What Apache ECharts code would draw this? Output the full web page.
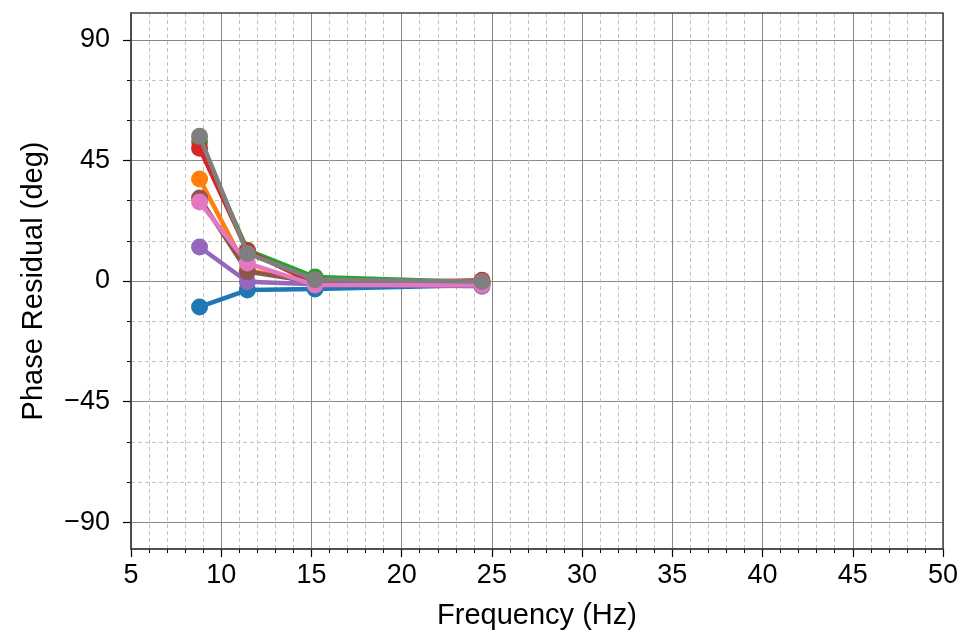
<!DOCTYPE html>
<html>
<head>
<meta charset="utf-8">
<script src="https://cdn.jsdelivr.net/npm/echarts@6/dist/echarts.min.js"></script>
<style>html,body{margin:0;padding:0;background:#fff}#c{width:966px;height:641px}</style>
</head>
<body>
<div id="c"></div>
<script>
var frequencies = [8.8, 11.45, 15.2, 24.45];
var seriesNames = ['s1','s2','s3','s4','s5','s6','s7','s8'];
var blueVals   = [-9.7, -3.4, -3.0, -1.5];
var orangeVals = [38.1, 4.0, -0.5, -0.8];
var greenVals  = [52.0, 11.5, 1.5, -0.5];
var redVals    = [49.5, 11.2, -1.0, 0.3];
var purpleVals = [12.7, -0.3, -1.2, -2.0];
var brownVals  = [31.0, 3.5, -0.5, -1.0];
var pinkVals   = [29.5, 6.7, -1.5, -1.5];
var grayVals   = [54.0, 10.3, 0.5, -0.2];
var allVals = [blueVals, orangeVals, greenVals, redVals, purpleVals, brownVals, pinkVals, grayVals];
var colors = ['#1f77b4','#ff7f0e','#2ca02c','#d62728','#9467bd','#8c564b','#e377c2','#7f7f7f'];
var xTicks = [5, 50, 5];
var yRange = [-100, 100];
var yMajor = [-90, 90, 45];

var FONT = "'Liberation Sans', Arial, Helvetica, sans-serif";
var L = 131, R = 23, T = 13, B = 92, H = 641 - T - B;
var gTop = T + H * (yRange[1] - yMajor[1]) / (yRange[1] - yRange[0]);
var gH = H * (yMajor[1] - yMajor[0]) / (yRange[1] - yRange[0]);

var series = allVals.map(function (vals, i) {
  return {
    name: seriesNames[i], type: 'line', xAxisIndex: 0, yAxisIndex: 0,
    data: frequencies.map(function (f, j) { return [f, vals[j]]; }),
    symbol: 'circle', symbolSize: 17, showSymbol: true,
    lineStyle: { width: 4.5, color: colors[i] },
    itemStyle: { color: colors[i] },
    emphasis: { disabled: true }, z: 3 + i
  };
});

var chart = echarts.init(document.getElementById('c'), null, { renderer: 'canvas' });
chart.setOption({
  animation: false,
  backgroundColor: '#fff',
  textStyle: { fontFamily: FONT },
  grid: [
    { left: L, right: R, top: T, bottom: B, show: true, borderColor: '#444', borderWidth: 1.5, backgroundColor: 'transparent', z: 10 },
    { left: L, right: R, top: gTop, height: gH, show: false }
  ],
  xAxis: [
    { type: 'value', gridIndex: 0, min: xTicks[0], max: xTicks[1], interval: xTicks[2],
      name: 'Frequency (Hz)', nameLocation: 'middle', nameGap: 52,
      nameTextStyle: { fontSize: 29, color: '#000', fontFamily: FONT },
      axisLine: { show: true, onZero: false, lineStyle: { color: '#444', width: 1.5 } },
      axisTick: { show: true, length: 8, lineStyle: { color: '#000', width: 1.2 } },
      minorTick: { show: true, splitNumber: 5, length: 4, lineStyle: { color: '#000', width: 1 } },
      axisLabel: { fontSize: 27, color: '#000', margin: 13, fontFamily: FONT },
      splitLine: { show: true, lineStyle: { color: '#888', width: 1 } },
      minorSplitLine: { show: true, lineStyle: { color: '#c4c4c4', width: 1, type: [4, 3] } }
    },
    { type: 'value', gridIndex: 1, min: xTicks[0], max: xTicks[1], show: false }
  ],
  yAxis: [
    { type: 'value', gridIndex: 0, min: yRange[0], max: yRange[1],
      name: 'Phase Residual (deg)', nameLocation: 'middle', nameGap: 83,
      nameTextStyle: { fontSize: 29, color: '#000', fontFamily: FONT },
      axisLine: { show: true, onZero: false, lineStyle: { color: '#444', width: 1.5 } },
      axisTick: { show: false }, axisLabel: { show: false }, splitLine: { show: false }
    },
    { type: 'value', gridIndex: 1, min: yMajor[0], max: yMajor[1], interval: yMajor[2],
      axisLine: { show: false, onZero: false },
      axisTick: { show: true, length: 8, lineStyle: { color: '#000', width: 1.2 } },
      minorTick: { show: true, splitNumber: 3, length: 4, lineStyle: { color: '#000', width: 1 } },
      axisLabel: { fontSize: 27, color: '#000', margin: 21, fontFamily: FONT,
        formatter: function (v) { return v < 0 ? '\u2212' + Math.abs(v) : String(v); } },
      splitLine: { show: true, lineStyle: { color: '#888', width: 1 } },
      minorSplitLine: { show: true, lineStyle: { color: '#c4c4c4', width: 1, type: [4, 3] } }
    }
  ],
  series: series
});
</script>
</body>
</html>
